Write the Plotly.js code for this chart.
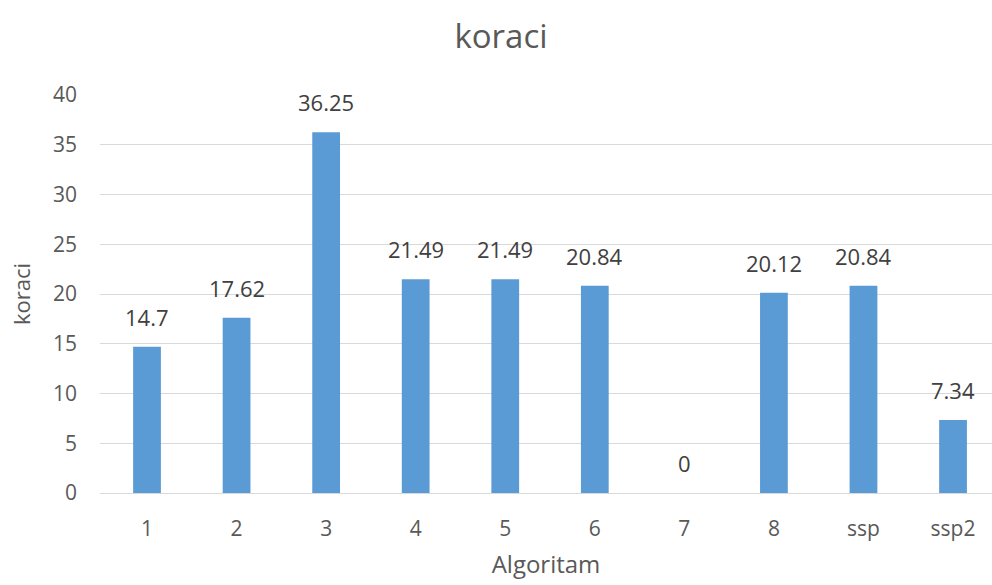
<!DOCTYPE html>
<html>
<head>
<meta charset="utf-8">
<script src="https://cdn.plot.ly/plotly-3.0.1.min.js"></script>
<style>html,body{margin:0;padding:0;background:#fff;}#chart{width:992px;height:585px;}</style>
</head>
<body>
<div id="chart"></div>
<script>
const categories = ["1", "2", "3", "4", "5", "6", "7", "8", "ssp", "ssp2"];
const values = [14.7, 17.62, 36.25, 21.49, 21.49, 20.84, 0, 20.12, 20.84, 7.34];
const labels = ["14.7", "17.62", "36.25", "21.49", "21.49", "20.84", "0", "20.12", "20.84", "7.34"];

const textColor = "#595959";
const font = "Open Sans, Noto Sans, sans-serif";

const trace = {
  type: "bar",
  x: categories,
  y: values,
  width: 0.31,
  marker: { color: "#5B9BD5" },
  hoverinfo: "skip"
};

const annotations = categories.map((c, i) => ({
  x: i, y: values[i], xref: "x", yref: "y",
  text: labels[i], showarrow: false,
  yanchor: "bottom", yshift: 13,
  font: { family: font, size: 22, color: "#404040" }
}));

const layout = {
  width: 992, height: 585,
  paper_bgcolor: "#fff", plot_bgcolor: "#fff",
  margin: { l: 100, r: 0, t: 95, b: 92 },
  showlegend: false,
  title: { text: "koraci", x: 0.505, xanchor: "center", y: 0.938, yanchor: "middle",
    font: { family: font, size: 33, color: textColor } },
  xaxis: {
    type: "category",
    range: [-0.525, 9.435],
    showgrid: false, zeroline: false,
    showline: true, linecolor: "#D9D9D9", linewidth: 1,
    ticks: "", ticklabelstandoff: 17,
    tickfont: { family: font, size: 21, color: textColor },
    title: { text: "Algoritam", standoff: 14, font: { family: font, size: 24, color: textColor } },
    automargin: false,
    fixedrange: true
  },
  yaxis: {
    range: [0, 40], dtick: 5, tick0: 0,
    showgrid: true, gridcolor: "#D9D9D9", gridwidth: 1,
    zeroline: false, showline: false,
    ticks: "", ticklabelstandoff: 22,
    tickfont: { family: font, size: 21, color: textColor },
    title: { text: "koraci", standoff: 16, font: { family: font, size: 22, color: textColor } },
    automargin: false,
    fixedrange: true
  },
  annotations: annotations,
  bargap: 0.69
};

Plotly.newPlot("chart", [trace], layout, { displayModeBar: false, staticPlot: true });
</script>
</body>
</html>
